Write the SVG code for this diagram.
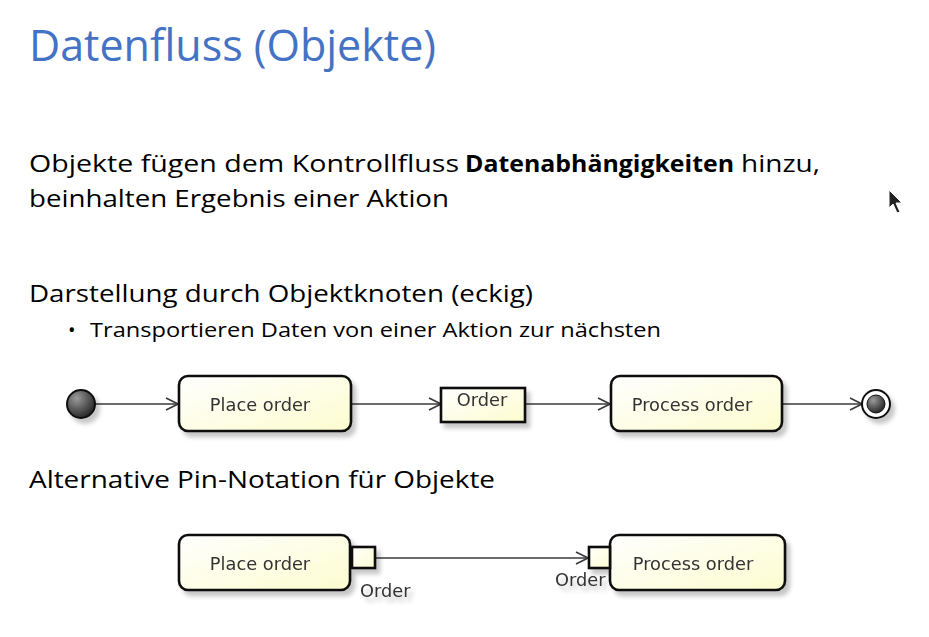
<svg xmlns="http://www.w3.org/2000/svg" width="929" height="637" viewBox="0 0 929 637">
  <style>
    .title { font-family: "Open Sans", "Liberation Sans", sans-serif; font-size: 44px; fill: #4472C4; }
    .body { font-family: "Open Sans", "Liberation Sans", sans-serif; font-size: 24px; fill: #000; }
    .bullet { font-family: "Open Sans", "Liberation Sans", sans-serif; font-size: 20px; fill: #000; }
    .lbl { font-family: "DejaVu Sans", "Liberation Sans", sans-serif; font-size: 17.8px; fill: #333; }
    .box { fill: url(#boxFill); stroke: #111; stroke-width: 2.6; }
    .pin { fill: url(#boxFill); stroke: #111; stroke-width: 2.6; }
    .edge { stroke: #3a3a3a; stroke-width: 1.6; fill: none; }
  </style>
  <defs>
    <linearGradient id="boxFill" x1="0" y1="0" x2="1" y2="1">
      <stop offset="0" stop-color="#FFFFFF"/>
      <stop offset="1" stop-color="#FCFCCF"/>
    </linearGradient>
    <radialGradient id="ballFill" cx="0.35" cy="0.3" r="0.8">
      <stop offset="0" stop-color="#9a9a9a"/>
      <stop offset="1" stop-color="#1a1a1a"/>
    </radialGradient>
    <filter id="shadow" x="-20%" y="-20%" width="150%" height="160%">
      <feDropShadow dx="4" dy="5" stdDeviation="2" flood-color="#000" flood-opacity="0.22"/>
    </filter>
    <marker id="open" viewBox="0 0 14 14" refX="13" refY="7" markerWidth="14" markerHeight="14" markerUnits="userSpaceOnUse" orient="auto">
      <path d="M1,1 L13,7 L1,13" fill="none" stroke="#3a3a3a" stroke-width="1.6"/>
    </marker>
  </defs>

  <rect width="929" height="637" fill="#fff"/>

  <!-- Slide texts -->
  <text class="title" x="29" y="61" textLength="407" lengthAdjust="spacingAndGlyphs">Datenfluss (Objekte)</text>
  <text class="body" y="172"><tspan x="29" textLength="430" lengthAdjust="spacingAndGlyphs">Objekte fügen dem Kontrollfluss</tspan><tspan x="465" font-weight="bold" textLength="269" lengthAdjust="spacingAndGlyphs">Datenabhängigkeiten</tspan><tspan x="741" textLength="79" lengthAdjust="spacingAndGlyphs">hinzu,</tspan></text>
  <text class="body" x="29" y="207" textLength="420" lengthAdjust="spacingAndGlyphs">beinhalten Ergebnis einer Aktion</text>
  <text class="body" x="29" y="302" textLength="504" lengthAdjust="spacingAndGlyphs">Darstellung durch Objektknoten (eckig)</text>
  <text class="bullet" x="68" y="337">•</text>
  <text class="bullet" x="90" y="337" textLength="571" lengthAdjust="spacingAndGlyphs">Transportieren Daten von einer Aktion zur nächsten</text>
  <text class="body" x="29" y="488" textLength="466" lengthAdjust="spacingAndGlyphs">Alternative Pin-Notation für Objekte</text>

  <!-- Connectors -->
  <g id="connectors">
    <line class="edge" x1="95" y1="404" x2="178" y2="404" marker-end="url(#open)"/>
    <line class="edge" x1="352" y1="404" x2="441" y2="404" marker-end="url(#open)"/>
    <line class="edge" x1="526" y1="404" x2="610" y2="404" marker-end="url(#open)"/>
    <line class="edge" x1="783" y1="404" x2="862" y2="404" marker-end="url(#open)"/>
    <line class="edge" x1="376" y1="558" x2="588" y2="558" marker-end="url(#open)"/>
  </g>

  <!-- Object flow diagram -->
  <g id="start" filter="url(#shadow)">
    <circle cx="81" cy="404" r="14" fill="url(#ballFill)" stroke="#111" stroke-width="2"/>
  </g>
  <g id="placeOrder1" filter="url(#shadow)">
    <rect class="box" x="179" y="376" width="172" height="55" rx="9"/>
    <text class="lbl" x="260" y="411" text-anchor="middle">Place order</text>
  </g>
  <g id="orderObject" filter="url(#shadow)">
    <rect class="box" x="441" y="388" width="84" height="34"/>
    <text class="lbl" x="482" y="406" text-anchor="middle">Order</text>
  </g>
  <g id="processOrder1" filter="url(#shadow)">
    <rect class="box" x="611" y="376" width="171" height="55" rx="9"/>
    <text class="lbl" x="692" y="411" text-anchor="middle">Process order</text>
  </g>
  <g id="end" filter="url(#shadow)">
    <circle cx="876" cy="404" r="14" fill="#fff" stroke="#111" stroke-width="2"/>
    <circle cx="876" cy="404" r="9" fill="url(#ballFill)" stroke="#111" stroke-width="1"/>
  </g>

  <!-- Pin notation diagram -->
  <g id="placeOrder2" filter="url(#shadow)">
    <rect class="box" x="179" y="535" width="171" height="55" rx="9"/>
    <text class="lbl" x="260" y="570" text-anchor="middle">Place order</text>
    <rect class="pin" x="352" y="547" width="23" height="21"/>
    <text class="lbl" x="360" y="597">Order</text>
  </g>
  <g id="processOrder2" filter="url(#shadow)">
    <rect class="box" x="610" y="535" width="175" height="55" rx="9"/>
    <text class="lbl" x="693" y="570" text-anchor="middle">Process order</text>
    <rect class="pin" x="589" y="547" width="21" height="21"/>
    <text class="lbl" x="555" y="586">Order</text>
  </g>

  <!-- Mouse pointer -->
  <polygon points="889,190 889,208 893,204 897,213 900,212 896,203 902,203" fill="#222" stroke="#fff" stroke-width="1"/>
</svg>
